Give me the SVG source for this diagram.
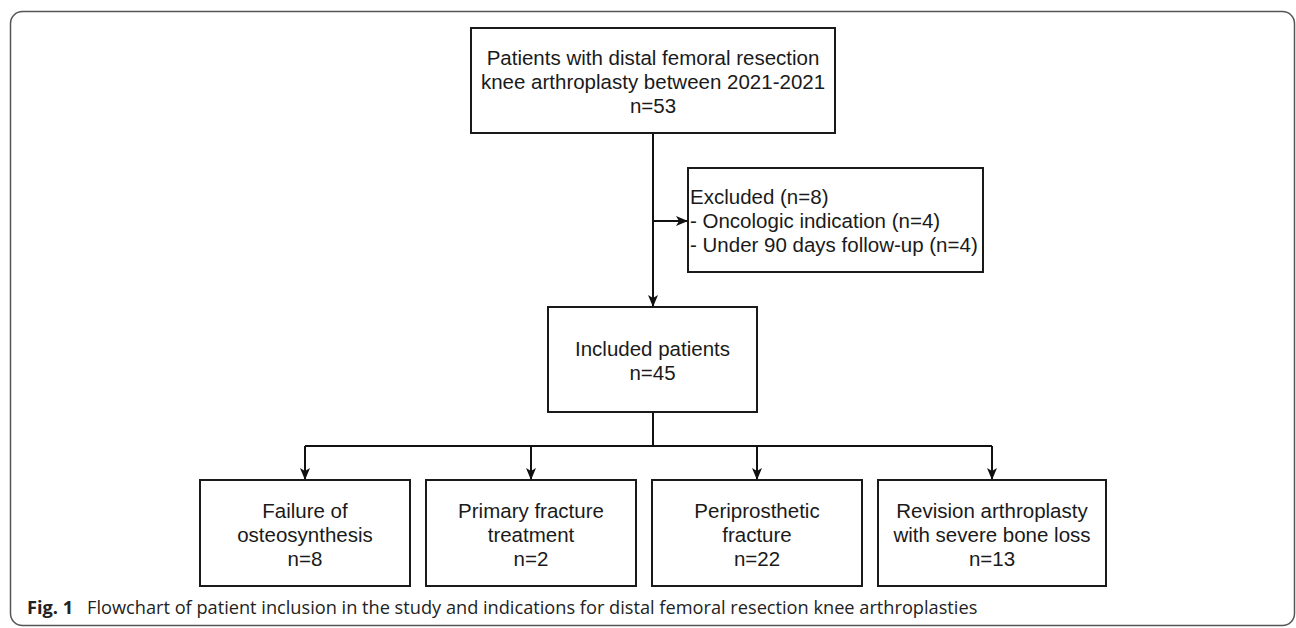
<svg xmlns="http://www.w3.org/2000/svg" width="1296" height="628" viewBox="0 0 1296 628">
<defs>
<marker id="arr" markerWidth="12" markerHeight="12" viewBox="0 0 12 12" refX="11" refY="6" orient="auto" markerUnits="userSpaceOnUse">
<path d="M0,1 L12,6 L0,11 L3,6 Z" fill="#111"/>
</marker>
<style>
.box{fill:#fff;stroke:#1a1a1a;stroke-width:2}
.t{font-family:"Liberation Sans",Arial,sans-serif;font-size:20.5px;fill:#1a1a1a;text-anchor:middle}
.tl{font-family:"Liberation Sans",Arial,sans-serif;font-size:20.5px;fill:#1a1a1a}
.c{fill:none;stroke:#111;stroke-width:2}
.cap{font-family:"Open Sans","Noto Sans",sans-serif;font-size:18.2px;fill:#222}
</style>
</defs>
<rect x="10.5" y="11.5" width="1284" height="614" rx="12" fill="#fff" stroke="#555" stroke-width="1.5"/>
<g id="connectors">
<path class="c" d="M653,133 V306" marker-end="url(#arr)"/>
<path class="c" d="M653,221 H687" marker-end="url(#arr)"/>
<path class="c" d="M653,412 V446"/>
<path class="c" d="M305,446 H992"/>
<path class="c" d="M305,446 V479" marker-end="url(#arr)"/>
<path class="c" d="M531,446 V479" marker-end="url(#arr)"/>
<path class="c" d="M757,446 V479" marker-end="url(#arr)"/>
<path class="c" d="M992,446 V479" marker-end="url(#arr)"/>
</g>
<g id="n-patients">
<rect class="box" x="471" y="28" width="364" height="105"/>
<text class="t" x="653" y="65">Patients with distal femoral resection</text>
<text class="t" x="653" y="89">knee arthroplasty between 2021-2021</text>
<text class="t" x="653" y="113">n=53</text>
</g>
<g id="n-excluded">
<rect class="box" x="688" y="168" width="295" height="104"/>
<text class="tl" x="690" y="204">Excluded (n=8)</text>
<text class="tl" x="690" y="228">- Oncologic indication (n=4)</text>
<text class="tl" x="690" y="252">- Under 90 days follow-up (n=4)</text>
</g>
<g id="n-included">
<rect class="box" x="548" y="307" width="209" height="105"/>
<text class="t" x="652.5" y="356">Included patients</text>
<text class="t" x="652.5" y="380">n=45</text>
</g>
<g id="n-failure">
<rect class="box" x="200" y="480" width="210" height="106"/>
<text class="t" x="305" y="518">Failure of</text>
<text class="t" x="305" y="542">osteosynthesis</text>
<text class="t" x="305" y="566">n=8</text>
</g>
<g id="n-primary">
<rect class="box" x="426" y="480" width="210" height="106"/>
<text class="t" x="531" y="518">Primary fracture</text>
<text class="t" x="531" y="542">treatment</text>
<text class="t" x="531" y="566">n=2</text>
</g>
<g id="n-periprosthetic">
<rect class="box" x="652" y="480" width="210" height="106"/>
<text class="t" x="757" y="518">Periprosthetic</text>
<text class="t" x="757" y="542">fracture</text>
<text class="t" x="757" y="566">n=22</text>
</g>
<g id="n-revision">
<rect class="box" x="878" y="480" width="228" height="106"/>
<text class="t" x="992" y="518">Revision arthroplasty</text>
<text class="t" x="992" y="542">with severe bone loss</text>
<text class="t" x="992" y="566">n=13</text>
</g>
<text class="cap" x="27" y="614"><tspan font-weight="bold">Fig. 1</tspan><tspan x="87">Flowchart of patient inclusion in the study and indications for distal femoral resection knee arthroplasties</tspan></text>
</svg>
